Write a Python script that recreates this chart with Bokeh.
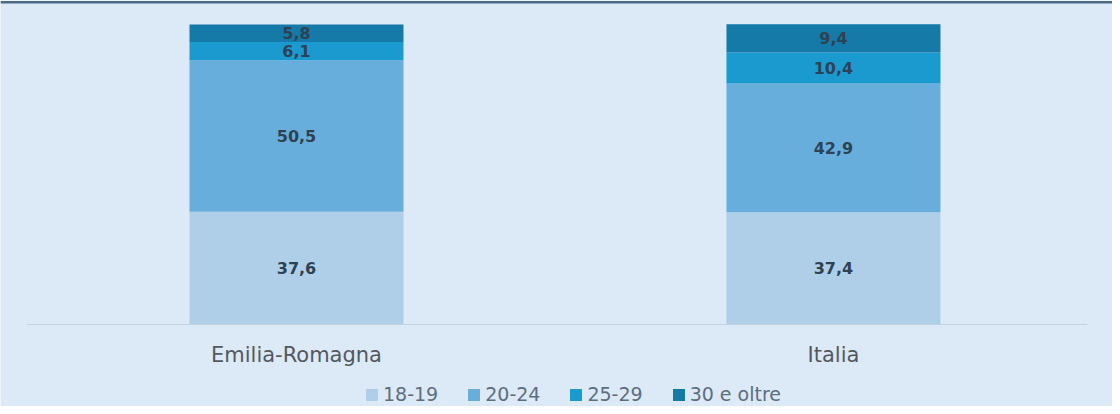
import numpy as np
from bokeh.plotting import figure
from bokeh.models import (ColumnDataSource, Range1d, Legend, LegendItem, Span)
from bokeh.core.properties import value
from bokeh.embed import file_html
from bokeh.resources import INLINE

# ---- data ----
categories = ["Emilia-Romagna", "Italia"]
age_groups = ["18-19", "20-24", "25-29", "30 e oltre"]
v_18_19 = [37.6, 37.4]
v_20_24 = [50.5, 42.9]
v_25_29 = [6.1, 10.4]
v_30_oltre = [5.8, 9.4]

colors = ["#aecfe7", "#68aedc", "#1b9ad0", "#157aa7"]
bg = "#dce9f6"

series = [v_18_19, v_20_24, v_25_29, v_30_oltre]
xs = list(range(len(categories)))
data = {"x": xs}
for name, vals in zip(age_groups, series):
    data[name] = vals
source = ColumnDataSource(data)

W, H = 1112, 406
p = figure(width=W, height=H, output_backend="svg", toolbar_location=None,
           x_axis_type=None, y_axis_type=None,
           x_range=Range1d(-0.5512, 1.5196), y_range=Range1d(-27.33, 108),
           min_border=0)
p.background_fill_color = bg
p.border_fill_color = bg
p.outline_line_color = None
p.xgrid.visible = False
p.ygrid.visible = False

renderers = p.vbar_stack(age_groups, x="x", width=0.3985, color=colors,
                         line_color=None, source=source)

# baseline
base = ColumnDataSource(dict(x0=[-0.501], x1=[1.473], y0=[0], y1=[0]))
p.segment(x0="x0", y0="y0", x1="x1", y1="y1", source=base,
          line_color="#c3d2de", line_width=1)

# top dark rule
p.add_layout(Span(location=107.4, dimension="width", line_color="#4b6a84",
                  line_width=2.5))

# value labels
arr = np.array(series)
cum = np.cumsum(arr, axis=0)
centers = cum - arr / 2
lx, ly, lt = [], [], []
for i in range(arr.shape[0]):
    for j in range(arr.shape[1]):
        lx.append(xs[j])
        ly.append(centers[i, j])
        lt.append(f"{arr[i, j]:.1f}".replace(".", ","))
lsrc = ColumnDataSource(dict(x=lx, y=ly, t=lt))
p.text(x="x", y="y", text="t", source=lsrc, text_align="center",
       text_baseline="middle", text_font=value("DejaVu Sans"),
       text_font_style="bold", text_font_size="16px", text_color="#2e4255")

# category labels (below the baseline)
csrc = ColumnDataSource(dict(x=xs, y=[-10] * len(xs), t=categories))
p.text(x="x", y="y", text="t", source=csrc, text_align="center",
       text_baseline="middle", text_font=value("DejaVu Sans"),
       text_font_size="21px", text_color="#54595f")

legend = Legend(items=[LegendItem(label=n, renderers=[r]) for n, r in zip(age_groups, renderers)],
                orientation="horizontal", location=(364, 1))
legend.background_fill_alpha = 0
legend.border_line_color = None
legend.label_text_font = "DejaVu Sans"
legend.label_text_font_size = "19px"
legend.label_text_color = "#5d6e80"
legend.glyph_width = 15
legend.glyph_height = 15
legend.label_standoff = 4
legend.spacing = 28
legend.padding = 0
legend.margin = 0
p.add_layout(legend)

open("out.html", "w").write(file_html(p, INLINE))
